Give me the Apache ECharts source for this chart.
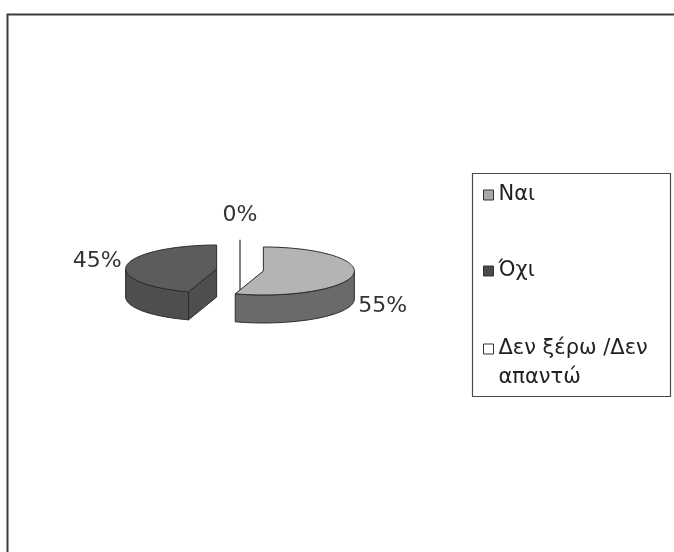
<!DOCTYPE html>
<html>
<head>
<meta charset="utf-8">
<script src="https://cdn.jsdelivr.net/npm/echarts@6/dist/echarts.min.js"></script>
<style>
  html, body { margin: 0; padding: 0; background: #ffffff; }
  #chart { width: 674px; height: 552px; }
</style>
</head>
<body>
<div id="chart"></div>
<script>
// Answers and their shares (percent)
const categories = ['Ναι', 'Όχι', 'Δεν ξέρω /Δεν απαντώ'];
const shares = [55, 45, 0];
const valueLabels = ['55%', '45%', '0%'];

// Geometry of the tilted, exploded pie
const PIE = { cx: 240, cy: 270, rx: 91, ry: 24, depth: 28, explode: 0.26 };
const topColors = ['#b4b4b4', '#5c5c5c', '#ffffff'];
const sideColors = ['#6a6a6a', '#4e4e4e', '#dddddd'];
const legendColors = ['#a8a8a8', '#4a4a4a', '#ffffff'];
const EDGE = '#2b2b2b';
const FONT = '"DejaVu Sans", "Liberation Sans", Arial, sans-serif';

const total = shares.reduce((a, b) => a + b, 0);

// angle measured clockwise from 12 o'clock
function startAngle(i) {
  let s = 0;
  for (let k = 0; k < i; k++) s += shares[k];
  return s / total * Math.PI * 2;
}
function rim(cx, cy, a, dy) {
  return [cx + PIE.rx * Math.sin(a), cy - PIE.ry * Math.cos(a) + (dy || 0)];
}
function arcPts(cx, cy, a0, a1, dy) {
  const n = Math.max(2, Math.ceil(Math.abs(a1 - a0) / (Math.PI / 90)));
  const pts = [];
  for (let j = 0; j <= n; j++) pts.push(rim(cx, cy, a0 + (a1 - a0) * j / n, dy));
  return pts;
}

function renderSlice(i) {
  return function (params, api) {
    const value = api.value(0);
    const a0 = startAngle(i);
    const a1 = a0 + value / total * Math.PI * 2;
    const mid = (a0 + a1) / 2;
    const ex = PIE.cx + PIE.explode * PIE.rx * Math.sin(mid);
    const ey = PIE.cy - PIE.explode * PIE.ry * Math.cos(mid);
    const D = PIE.depth;
    const faceStyle = (fill) => ({ fill: fill, stroke: EDGE, lineWidth: 1, lineJoin: 'round' });
    const children = [];

    if (a1 - a0 > 1e-6) {
      // cut faces that turn toward the viewer
      [[a0, a0 - Math.PI / 2], [a1, a1 + Math.PI / 2]].forEach(function (f) {
        if (Math.cos(f[1]) < -1e-6) {
          const p = rim(ex, ey, f[0]);
          children.push({
            type: 'polygon',
            shape: { points: [[ex, ey], p, [p[0], p[1] + D], [ex, ey + D]] },
            style: faceStyle(sideColors[i])
          });
        }
      });
      // outer wall, front half of the rim only
      const b0 = Math.max(a0, Math.PI / 2), b1 = Math.min(a1, Math.PI * 1.5);
      if (b1 > b0) {
        const top = arcPts(ex, ey, b0, b1, 0);
        const bottom = arcPts(ex, ey, b1, b0, D);
        children.push({ type: 'polygon', shape: { points: top.concat(bottom) }, style: faceStyle(sideColors[i]) });
      }
      // top face
      children.push({
        type: 'polygon',
        shape: { points: [[ex, ey]].concat(arcPts(ex, ey, a0, a1, 0)) },
        style: faceStyle(topColors[i])
      });
    } else {
      // empty slice collapses to its edge
      const p = rim(ex, ey, a0);
      children.push({
        type: 'line',
        shape: { x1: p[0], y1: p[1], x2: ex, y2: ey + D - 2 },
        style: { stroke: EDGE, lineWidth: 1.2 }
      });
    }

    // value label outside the rim
    const s = Math.sin(mid), c = Math.cos(mid);
    const side = Math.abs(s) < 0.3 ? 0 : Math.sign(s);
    const lx = ex + (side ? PIE.rx * s + 5 * side : 0);
    const ly = ey - 2 * PIE.ry * c + (c < 0 ? D : 0);
    children.push({
      type: 'text',
      style: {
        text: valueLabels[i], x: lx, y: ly,
        align: side > 0 ? 'left' : (side < 0 ? 'right' : 'center'),
        verticalAlign: 'middle',
        font: '22px ' + FONT, fill: '#333333'
      }
    });
    return { type: 'group', children: children };
  };
}

const zOrder = [3, 1, 2];
const series = categories.map(function (name, i) {
  return {
    type: 'custom',
    name: name,
    coordinateSystem: 'none',
    z: zOrder[i],
    itemStyle: { color: legendColors[i] },
    renderItem: renderSlice(i),
    data: [[shares[i]]]
  };
});

const chart = echarts.init(document.getElementById('chart'), null, { renderer: 'canvas' });
chart.setOption({
  backgroundColor: '#ffffff',
  animation: false,
  graphic: [
    { type: 'rect', silent: true, z: -10,
      shape: { x: 7.5, y: 14.5, width: 720, height: 600 },
      style: { fill: 'none', stroke: '#3c3c3c', lineWidth: 2 } },
    { type: 'rect', silent: true, z: -10,
      shape: { x: 472.5, y: 173.5, width: 198, height: 223 },
      style: { fill: 'none', stroke: '#4a4a4a', lineWidth: 1.2 } }
  ],
  legend: {
    orient: 'vertical',
    left: 483,
    top: 153.5,
    padding: 0,
    itemGap: -7,
    icon: 'rect',
    itemWidth: 10,
    itemHeight: 10,
    selectedMode: false,
    textStyle: { fontFamily: FONT, fontSize: 21, color: '#222222', lineHeight: 29 },
    // long answer wraps after "/Δεν"; a blank first line keeps the marker on its first line
    formatter: function (name) {
      return name.indexOf('/Δεν ') >= 0 ? '\n' + name.replace('/Δεν ', '/Δεν\n') : name;
    },
    data: categories.map(function (name, i) {
      return {
        name: name,
        itemStyle: { color: legendColors[i], borderColor: '#333333', borderWidth: 1 },
        textStyle: i < 2 ? { lineHeight: 83 } : { lineHeight: 29 }
      };
    })
  },
  series: series
});
</script>
</body>
</html>
